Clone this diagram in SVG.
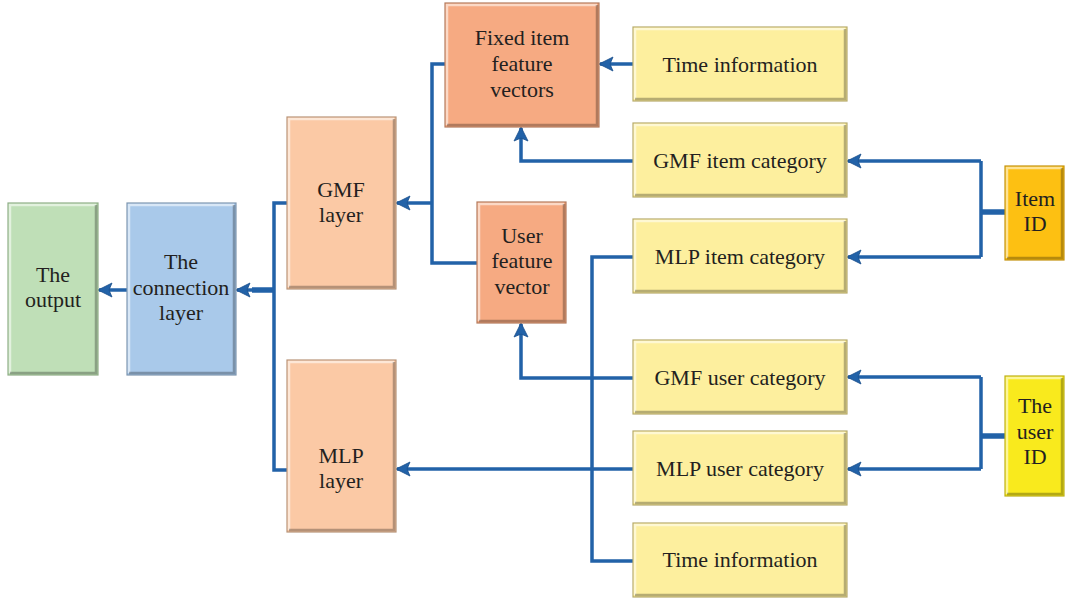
<svg xmlns="http://www.w3.org/2000/svg" width="1065" height="601" viewBox="0 0 1065 601" font-family="'Liberation Serif', 'DejaVu Serif', serif">
<defs>
<marker id="ah" markerUnits="userSpaceOnUse" markerWidth="16" markerHeight="16" viewBox="0 0 16 16" refX="15" refY="8" orient="auto">
<path d="M16,8 L2,1 L5,8 L2,15 Z" fill="#2262a8" stroke="#1a4f8c" stroke-width="0.8"/>
</marker>
<style>
text{font-family:"Liberation Serif","DejaVu Serif",serif;font-size:22px;fill:#231f20;text-anchor:middle}
.box{stroke-width:1.2}
.hi{fill:none;stroke:#ffffff;stroke-opacity:0.55;stroke-width:2.5}
.sh{fill:none;stroke:#000;stroke-opacity:0.28;stroke-width:2.5}
.g{fill:#bfdfb7;stroke:#8fae86}
.b{fill:#a9c9ea;stroke:#7f97b0}
.p{fill:#fbc9a5;stroke:#b89478}
.o{fill:#f6aa82;stroke:#b47b5d}
.y{fill:#fdef9e;stroke:#b7ab6c}
.iy{fill:#fdc012;stroke:#c4920c}
.uy{fill:#f9ea1d;stroke:#bdb017}
.c{fill:none;stroke:#2262a8;stroke-width:3.5;stroke-linejoin:miter}
.cw{fill:none;stroke:#2262a8;stroke-width:5.5}
</style>
</defs>

<g id="connectors">
<path class="c" d="M127,290 H99" marker-end="url(#ah)"/>
<path class="c" d="M287,203 H274 V470 H287"/>
<path class="cw" d="M274,290 H252"/>
<path class="c" d="M256,290 H237" marker-end="url(#ah)"/>
<path class="c" d="M445,64 H432 V263 H477"/>
<path class="c" d="M432,203 H397" marker-end="url(#ah)"/>
<path class="c" d="M633,64 H600" marker-end="url(#ah)"/>
<path class="c" d="M633,161 H521 V128" marker-end="url(#ah)"/>
<path class="c" d="M633,378 H521 V324" marker-end="url(#ah)"/>
<path class="c" d="M633,469 H397" marker-end="url(#ah)"/>
<path class="c" d="M633,257 H592 V561 H633"/>
<path class="cw" d="M1005,212 H981"/>
<path class="c" d="M981,161 V257"/>
<path class="c" d="M981,161 H848" marker-end="url(#ah)"/>
<path class="c" d="M981,257 H848" marker-end="url(#ah)"/>
<path class="cw" d="M1005,436 H981"/>
<path class="c" d="M981,377 V469"/>
<path class="c" d="M981,377 H848" marker-end="url(#ah)"/>
<path class="c" d="M981,469 H848" marker-end="url(#ah)"/>
</g>

<g id="output">
<rect class="box g" x="8" y="203" width="90" height="172"/>
<path class="hi" d="M10,373 V205 H96"/><path class="sh" d="M10,373 H96 V205"/>
<text x="53" y="282">The</text><text x="53" y="307">output</text>
</g>
<g id="connection-layer">
<rect class="box b" x="127" y="203" width="109" height="172"/>
<path class="hi" d="M129,373 V205 H234"/><path class="sh" d="M129,373 H234 V205"/>
<text x="181" y="269">The</text><text x="181" y="295">connection</text><text x="181" y="320">layer</text>
</g>
<g id="gmf-layer">
<rect class="box p" x="287" y="117" width="109" height="172"/>
<path class="hi" d="M289,287 V119 H394"/><path class="sh" d="M289,287 H394 V119"/>
<text x="341" y="197">GMF</text><text x="341" y="222">layer</text>
</g>
<g id="mlp-layer">
<rect class="box p" x="287" y="360" width="109" height="172"/>
<path class="hi" d="M289,530 V362 H394"/><path class="sh" d="M289,530 H394 V362"/>
<text x="341" y="463">MLP</text><text x="341" y="488">layer</text>
</g>
<g id="fixed-item-feature-vectors">
<rect class="box o" x="445" y="3" width="154" height="124"/>
<path class="hi" d="M447,125 V5 H597"/><path class="sh" d="M447,125 H597 V5"/>
<text x="522" y="45">Fixed item</text><text x="522" y="71">feature</text><text x="522" y="97">vectors</text>
</g>
<g id="user-feature-vector">
<rect class="box o" x="477" y="202" width="89" height="121"/>
<path class="hi" d="M479,321 V204 H564"/><path class="sh" d="M479,321 H564 V204"/>
<text x="522" y="243">User</text><text x="522" y="268">feature</text><text x="522" y="294">vector</text>
</g>
<g id="time-information-top">
<rect class="box y" x="633" y="27" width="214" height="74"/>
<path class="hi" d="M635,99 V29 H845"/><path class="sh" d="M635,99 H845 V29"/>
<text x="740" y="72">Time information</text>
</g>
<g id="gmf-item-category">
<rect class="box y" x="633" y="123" width="214" height="74"/>
<path class="hi" d="M635,195 V125 H845"/><path class="sh" d="M635,195 H845 V125"/>
<text x="740" y="168">GMF item category</text>
</g>
<g id="mlp-item-category">
<rect class="box y" x="633" y="219" width="214" height="74"/>
<path class="hi" d="M635,291 V221 H845"/><path class="sh" d="M635,291 H845 V221"/>
<text x="740" y="264">MLP item category</text>
</g>
<g id="item-id">
<rect class="box iy" x="1005" y="166" width="59" height="94"/>
<path class="hi" d="M1007,258 V168 H1062"/><path class="sh" d="M1007,258 H1062 V168"/>
<text x="1035" y="206">Item</text><text x="1035" y="231">ID</text>
</g>
<g id="gmf-user-category">
<rect class="box y" x="633" y="340" width="214" height="74"/>
<path class="hi" d="M635,412 V342 H845"/><path class="sh" d="M635,412 H845 V342"/>
<text x="740" y="385">GMF user category</text>
</g>
<g id="mlp-user-category">
<rect class="box y" x="633" y="431" width="214" height="74"/>
<path class="hi" d="M635,503 V433 H845"/><path class="sh" d="M635,503 H845 V433"/>
<text x="740" y="476">MLP user category</text>
</g>
<g id="time-information-bottom">
<rect class="box y" x="633" y="523" width="214" height="74"/>
<path class="hi" d="M635,595 V525 H845"/><path class="sh" d="M635,595 H845 V525"/>
<text x="740" y="567">Time information</text>
</g>
<g id="user-id">
<rect class="box uy" x="1005" y="376" width="59" height="120"/>
<path class="hi" d="M1007,494 V378 H1062"/><path class="sh" d="M1007,494 H1062 V378"/>
<text x="1035" y="413">The</text><text x="1035" y="439">user</text><text x="1035" y="464">ID</text>
</g>
</svg>
